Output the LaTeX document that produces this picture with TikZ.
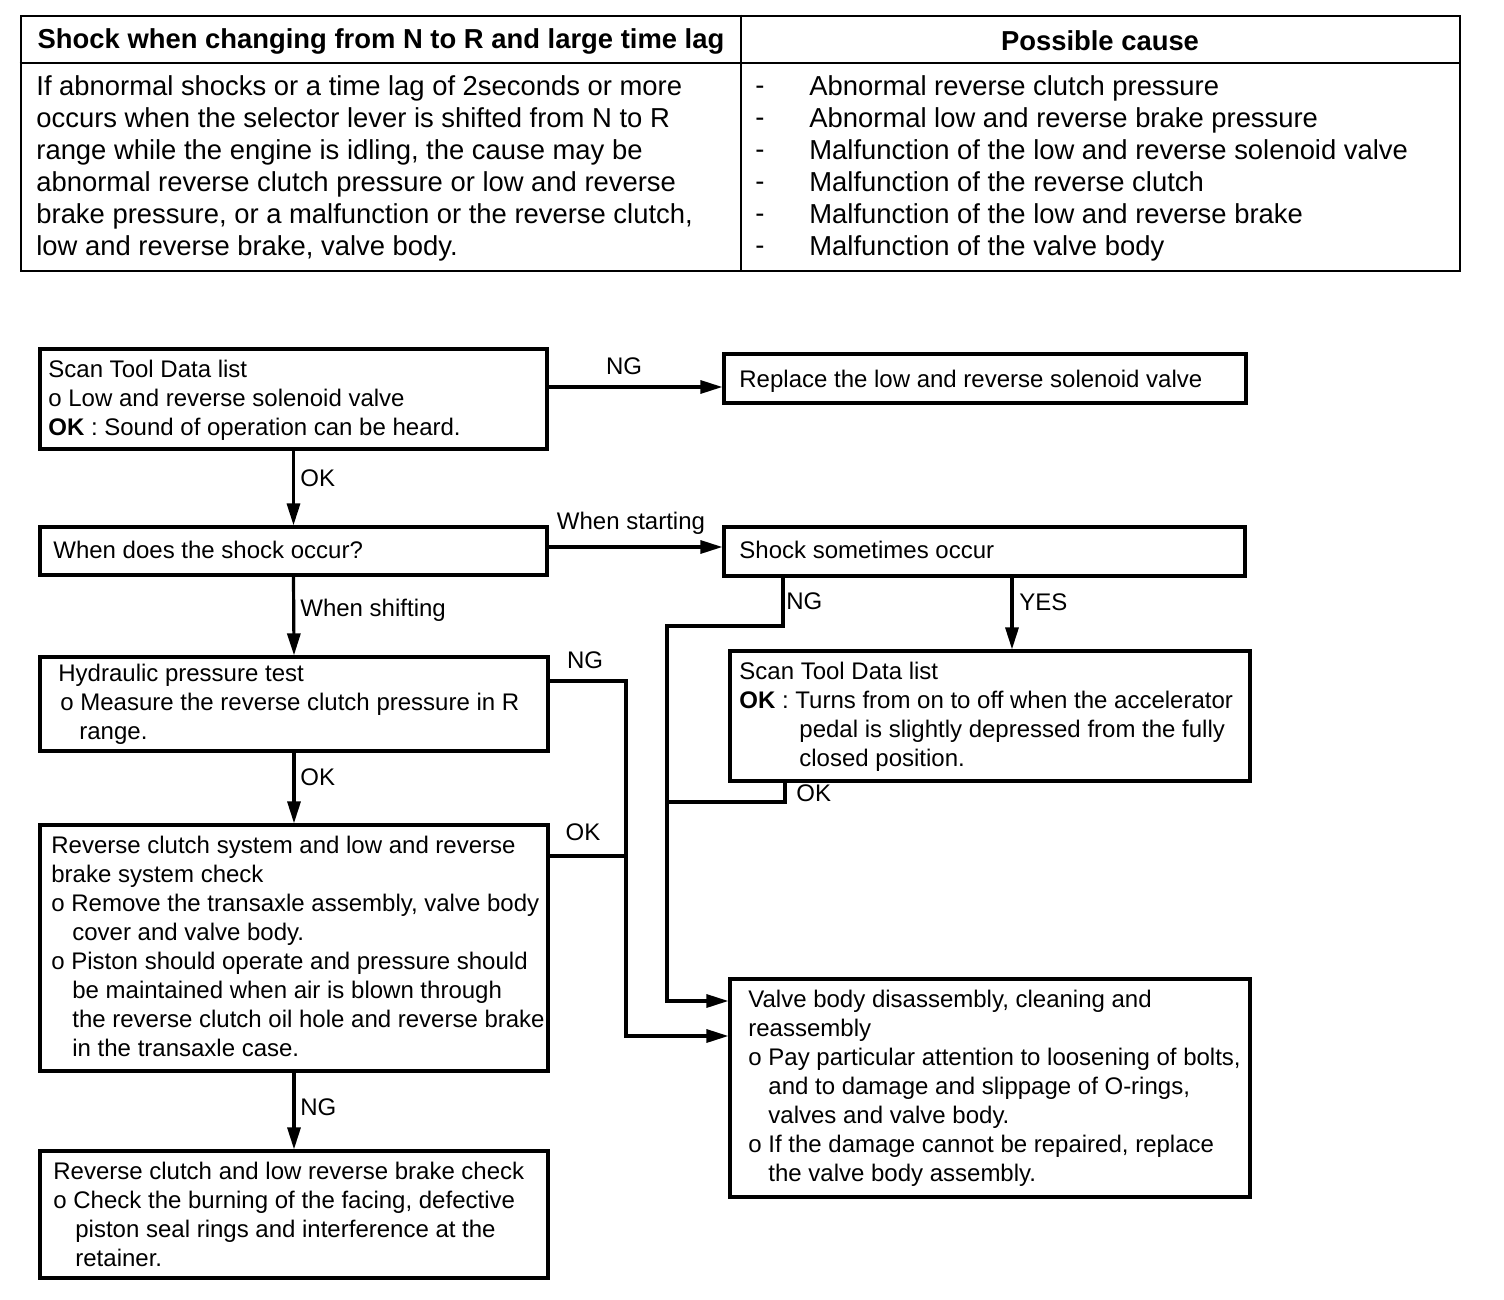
\documentclass[tikz,border=0pt]{standalone}
\usepackage{fontspec}
\setmainfont{Liberation Sans}
\usetikzlibrary{arrows.meta,fit}
\begin{document}
\begin{tikzpicture}[x=0.5pt,y=-0.5pt,
  box/.style={draw,line width=1.6pt,inner sep=0pt},
  tbox/.style={draw,line width=1.3pt,inner sep=0pt},
  txt/.style={inner sep=0pt,align=left,font=\fontsize{12}{14.5}\selectfont},
  ttxt/.style={inner sep=0pt,align=left,font=\fontsize{13.7}{16}\selectfont},
  thead/.style={inner sep=0pt,font=\fontsize{13.7}{16}\selectfont\bfseries},
  lbl/.style={inner sep=0pt,font=\fontsize{12}{14.5}\selectfont},
  arr/.style={line width=1.6pt,-{Triangle[length=11pt,width=6.5pt]}},
  conn/.style={line width=1.6pt}]
\useasboundingbox (0,0) rectangle (1504,1300);

% ---------- table ----------
\node[tbox, fit={(21,16) (1460,271)}] (tab) {};
\coordinate (hy) at (0,63);
\coordinate (cx) at (741,0);
\draw[line width=1.3pt] (tab.west|-hy) -- (tab.east|-hy);
\draw[line width=1.3pt] (tab.north-|cx) -- (tab.south-|cx);
\node[thead] (h1) at (381,41) {Shock when changing from N to R and large time lag};
\node[thead] (h2) at (1100,41) {Possible cause};
\node[ttxt,anchor=west] (tl) at (36,168) {If abnormal shocks or a time lag of 2seconds or more\\
occurs when the selector lever is shifted from N to R\\
range while the engine is idling, the cause may be\\
abnormal reverse clutch pressure or low and reverse\\
brake pressure, or a malfunction or the reverse clutch,\\
low and reverse brake, valve body.};
\node[ttxt,align=center] (td) at (760,168) {\vphantom{Ay}-\\\vphantom{Ay}-\\\vphantom{Ay}-\\\vphantom{Ay}-\\\vphantom{Ay}-\\\vphantom{Ay}-};
\node[ttxt,anchor=west] (tr) at (809,168) {Abnormal reverse clutch pressure\\
Abnormal low and reverse brake pressure\\
Malfunction of the low and reverse solenoid valve\\
Malfunction of the reverse clutch\\
Malfunction of the low and reverse brake\\
Malfunction of the valve body};

% ---------- boxes ----------
\node[box, fit={(40,349) (547,449)}] (b1) {};
\node[box, fit={(724,354) (1246,403)}] (b2) {};
\node[box, fit={(40,527) (547,575)}] (b3) {};
\node[box, fit={(724,527) (1245,576)}] (b4) {};
\node[box, fit={(40,657) (548,751)}] (b5) {};
\node[box, fit={(40,825) (548,1071)}] (b6) {};
\node[box, fit={(40,1151) (548,1278)}] (b7) {};
\node[box, fit={(730,651) (1250,781)}] (b8) {};
\node[box, fit={(730,979) (1250,1197)}] (b9) {};

% ---------- box texts ----------
\node[txt,anchor=west] (t1) at (48,400) {Scan Tool Data list\\
o Low and reverse solenoid valve\\
\textbf{OK} : Sound of operation can be heard.};
\node[txt,anchor=west] (t2) at (739,381) {Replace the low and reverse solenoid valve};
\node[txt,anchor=west] (t3) at (53,550) {When does the shock occur?};
\node[txt,anchor=west] (t4) at (739,550) {Shock sometimes occur};
\node[txt,anchor=west] (t5) at (58,704) {Hydraulic pressure test\\
\hspace*{1pt}o Measure the reverse clutch pressure in R\\
\hspace*{10.5pt}range.};
\node[txt,anchor=west] (t6) at (51,946) {Reverse clutch system and low and reverse\\
brake system check\\
o Remove the transaxle assembly, valve body\\
\hspace*{10.5pt}cover and valve body.\\
o Piston should operate and pressure should\\
\hspace*{10.5pt}be maintained when air is blown through\\
\hspace*{10.5pt}the reverse clutch oil hole and reverse brake\\
\hspace*{10.5pt}in the transaxle case.};
\node[txt,anchor=west] (t7) at (53,1214) {Reverse clutch and low reverse brake check\\
o Check the burning of the facing, defective\\
\hspace*{11pt}piston seal rings and interference at the\\
\hspace*{11pt}retainer.};
\node[txt,anchor=west] (t8) at (739,717) {Scan Tool Data list\\
\textbf{OK} : Turns from on to off when the accelerator\\
\hspace*{30pt}pedal is slightly depressed from the fully\\
\hspace*{30pt}closed position.};
\node[txt,anchor=west] (t9) at (748,1088) {Valve body disassembly, cleaning and\\
reassembly\\
o Pay particular attention to loosening of bolts,\\
\hspace*{10pt}and to damage and slippage of O-rings,\\
\hspace*{10pt}valves and valve body.\\
o If the damage cannot be repaired, replace\\
\hspace*{10pt}the valve body assembly.};

% ---------- labels ----------
\node[lbl] (lng1) at (624,366) {NG};
\node[lbl,anchor=west] (lok1) at (300,478) {OK};
\node[lbl] (lws) at (631,523) {When starting};
\node[lbl,anchor=west] (lwsh) at (300,610) {When shifting};
\node[lbl] (lng2) at (585,660) {NG};
\node[lbl,anchor=west] (lok2) at (300,777) {OK};
\node[lbl] (lok3) at (583,832) {OK};
\node[lbl,anchor=west] (lng3) at (300,1107) {NG};
\node[lbl,anchor=west] (lng4) at (786,601) {NG};
\node[lbl,anchor=west] (lyes) at (1019,602) {YES};
\node[lbl,anchor=west] (lok4) at (796,793) {OK};

% ---------- connectors ----------
\coordinate (c1) at (0,387);
\draw[arr] (b1.east|-c1) -- (b2.west|-c1);
\draw[arr] (b1.south) -- (b3.north);
\coordinate (c2) at (0,547);
\draw[arr] (b3.east|-c2) -- (b4.west|-c2);
\draw[arr] (b3.south) -- (b5.north);
\draw[arr] (b5.south) -- (b6.north);
\draw[arr] (b6.south) -- (b7.north);
\coordinate (c3) at (1012,0);
\draw[arr] (b4.south-|c3) -- (b8.north-|c3);
\coordinate (j1) at (667,626);
\coordinate (c4) at (783,0);
\coordinate (c5) at (0,1001);
\draw[arr] (b4.south-|c4) |- (j1) |- (b9.west|-c5);
\coordinate (j2) at (667,802);
\coordinate (c6) at (785,0);
\draw[conn] (b8.south-|c6) |- (j2);
\coordinate (j3) at (626,681);
\coordinate (c7) at (0,1036);
\draw[arr] (b5.east|-j3) -- (j3) |- (b9.west|-c7);
\coordinate (j4) at (626,856);
\draw[conn] (b6.east|-j4) -- (j4);
\end{tikzpicture}
\end{document}
